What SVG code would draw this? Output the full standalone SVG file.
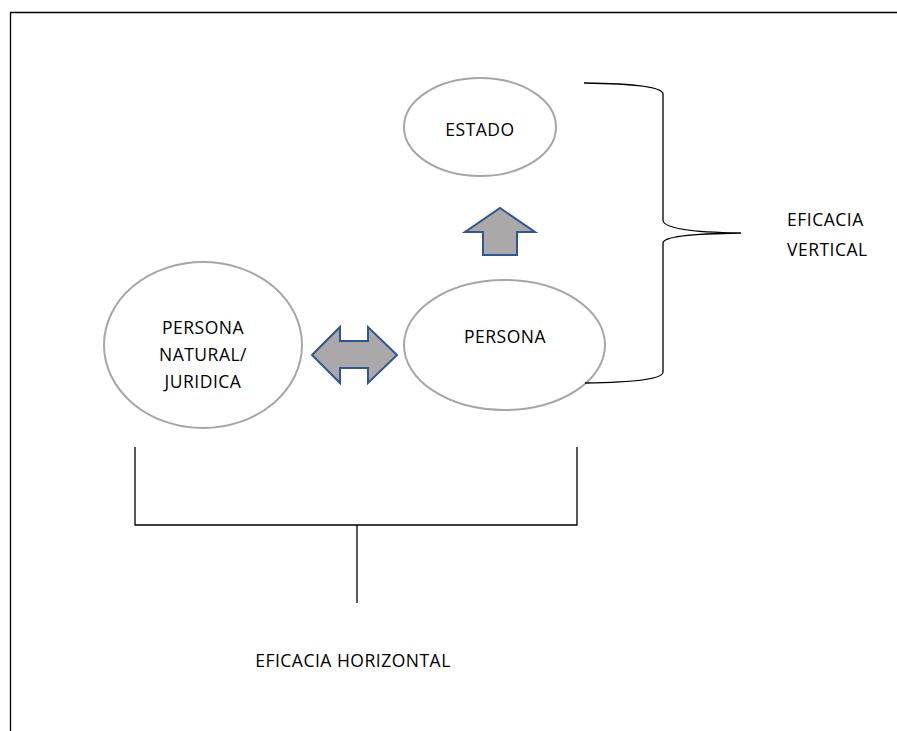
<svg xmlns="http://www.w3.org/2000/svg" width="897" height="731" viewBox="0 0 897 731">
<style>
.el{fill:#fff;stroke:#a6a6a6;stroke-width:2}
.ar{fill:#aaa8a8;stroke:#2f5597;stroke-width:2;stroke-linejoin:miter}
.ln{fill:none;stroke:#000;stroke-width:1.3}
text{font-family:"Open Sans","Liberation Sans",Arial,sans-serif;font-size:17.5px;letter-spacing:0.5px;fill:#000;text-anchor:middle}
</style>
<rect width="897" height="731" fill="#fff"/>
<path class="ln" d="M10.5,731 V12.5 H897"/>
<g id="estado"><ellipse class="el" cx="480" cy="127" rx="76" ry="49"/><text x="480" y="136">ESTADO</text></g>
<g id="persona"><ellipse class="el" cx="504.5" cy="345" rx="100.5" ry="65"/><text x="505" y="343">PERSONA</text></g>
<g id="persona-natural"><ellipse class="el" cx="203" cy="345" rx="99" ry="83"/>
<text x="203" y="334">PERSONA</text><text x="203" y="361">NATURAL/</text><text x="203" y="388">JURIDICA</text></g>
<g id="connectors">
<path class="ar" d="M500,208 L535,232 L517,232 L517,255 L483,255 L483,232 L465,232 Z"/>
<path class="ar" d="M312,355 L340,327 L340,341 L368,341 L368,327 L397,355 L368,383 L368,368 L340,368 L340,383 Z"/>
<path class="ln" d="M584,83 Q663,84 663,94 V220 Q663,232 741,233 Q663,234 663,243 V372 Q663,382 585,383"/>
<path class="ln" d="M135,447 V525 H577 V447 M357,525 V603"/>
</g>
<g id="eficacia-vertical"><text x="787" y="226" style="text-anchor:start">EFICACIA</text><text x="787" y="256" style="text-anchor:start">VERTICAL</text></g>
<g id="eficacia-horizontal"><text x="353" y="667">EFICACIA HORIZONTAL</text></g>
</svg>
